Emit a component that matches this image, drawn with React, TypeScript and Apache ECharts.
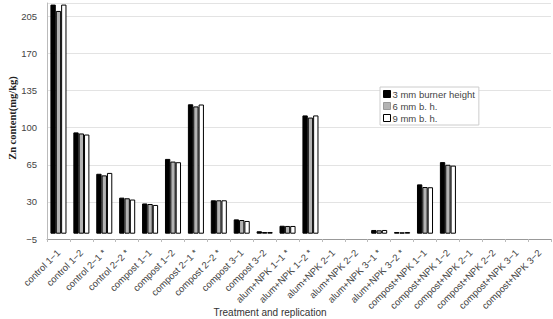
import React, { useEffect, useRef } from "react";
import * as echarts from "echarts";

// Treatments and replications (x axis)
const categories = [
  "control 1−1", "control 1−2", "control 2−1 *", "control 2−2 *",
  "compost 1−1", "compost 1−2", "compost 2−1 *", "compost 2−2 *",
  "compost 3−1", "compost 3−2",
  "alum+NPK 1−1 *", "alum+NPK 1−2 *", "alum+NPK 2−1", "alum+NPK 2−2",
  "alum+NPK 3−1 *", "alum+NPK 3−2 *",
  "compost+NPK 1−1", "compost+NPK 1−2", "compost+NPK 2−1", "compost+NPK 2−2",
  "compost+NPK 3−1", "compost+NPK 3−2",
];

// Zn content (mg/kg) per burner height
const burner3mm = [
  216, 95.5, 56.5, 34, 28.5, 70.5, 122, 31.5, 13.5, 2.3,
  7.5, 111.5, null, null, 3.5, 1.6,
  46.5, 67.5, null, null, null, null,
];
const burner6mm = [
  210, 94.5, 55, 33.4, 28, 68, 120, 31.5, 12.9, 1.6,
  7.3, 109.5, null, null, 3.2, 1.3,
  44, 65, null, null, null, null,
];
const burner9mm = [
  216, 93.5, 57.3, 32.2, 27.1, 67.4, 121.8, 31.5, 12, 1.6,
  7.3, 111.5, null, null, 3.5, 1.6,
  43.8, 64.2, null, null, null, null,
];

const seriesNames = ["3 mm burner height", "6 mm b. h.", "9 mm b. h."];
const seriesColors = ["#000000", "#b3b3b3", "#ffffff"];

export default function App() {
  const ref = useRef<HTMLDivElement>(null);

  useEffect(() => {
    if (!ref.current) return;
    const chart = echarts.init(ref.current, null, { renderer: "svg" });
    const dataSets = [burner3mm, burner6mm, burner9mm];

    chart.setOption({
      animation: false,
      backgroundColor: "#ffffff",
      grid: { left: 47, right: 2, top: 3, bottom: 80, containLabel: false },
      legend: {
        left: 380,
        top: 87,
        orient: "vertical",
        itemWidth: 7,
        itemHeight: 7,
        itemGap: 0,
        padding: [1, 4, 1, 3],
        backgroundColor: "#ffffff",
        borderColor: "#cccccc",
        borderWidth: 1,
        textStyle: {
          fontFamily: "Liberation Sans",
          fontSize: 9.5,
          lineHeight: 12,
          color: "#444",
          padding: [0, 0, 0, -3],
        },
        data: seriesNames.map((name, i) => ({
          name,
          icon: "rect",
          itemStyle: { color: seriesColors[i], borderColor: i === 1 ? "#999" : "#000", borderWidth: 1 },
        })),
      },
      xAxis: {
        type: "category",
        data: categories,
        axisLine: { onZero: false, lineStyle: { color: "#999", width: 1 } },
        axisTick: { show: true, interval: 0, length: 3, lineStyle: { color: "#bbb" } },
        axisLabel: {
          interval: 0,
          rotate: 45,
          margin: 12,
          fontFamily: "Liberation Sans",
          fontSize: 9.5,
          color: "#444",
        },
        splitLine: { show: false },
      },
      yAxis: {
        type: "value",
        min: -5,
        max: 217.5,
        interval: 35,
        axisLine: { show: true, lineStyle: { color: "#bbb" } },
        axisTick: { show: false },
        axisLabel: {
          showMaxLabel: false,
          margin: 10,
          fontFamily: "Liberation Sans",
          fontSize: 9.5,
          color: "#444",
          formatter: (v: number) => String(v).replace("-", "−"),
        },
        splitLine: { show: true, lineStyle: { color: "#e3e3e3", width: 1 } },
      },
      series: dataSets.map((d, i) => ({
        name: seriesNames[i],
        type: "bar",
        data: d,
        barGap: "0%",
        barCategoryGap: "30%",
        itemStyle: { color: seriesColors[i], borderColor: "#000", borderWidth: 1 },
      })),
      graphic: [
        {
          type: "text",
          x: 12,
          y: 118,
          rotation: Math.PI / 2,
          style: {
            text: "Zn content(mg/kg)",
            fontFamily: "Liberation Serif",
            fontWeight: "bold",
            fontSize: 10.5,
            fill: "#222",
            textAlign: "center",
            textVerticalAlign: "middle",
          },
        },
        {
          type: "text",
          x: 270,
          y: 307,
          style: {
            text: "Treatment and replication",
            fontFamily: "Liberation Sans",
            fontSize: 10,
            fill: "#333",
            textAlign: "center",
            textVerticalAlign: "top",
          },
        },
      ],
    });

    return () => chart.dispose();
  }, []);

  return <div ref={ref} style={{ width: 553, height: 319, position: "absolute", left: 0, top: 0 }} />;
}
